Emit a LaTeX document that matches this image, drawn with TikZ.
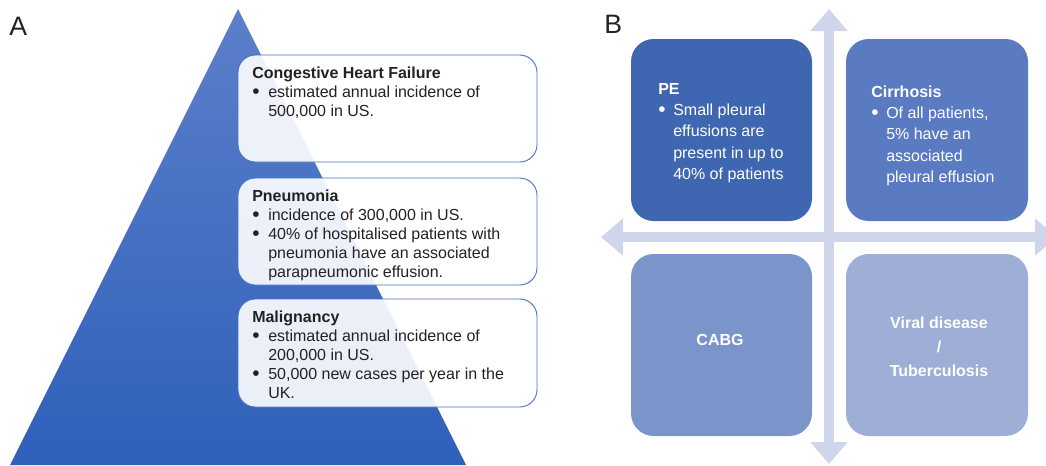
\documentclass[tikz,border=0pt]{standalone}
\usepackage{fontspec}
\setmainfont{Liberation Sans}
\usepackage{xcolor}
\usetikzlibrary{arrows.meta}
\definecolor{tup}{RGB}{92, 127, 202}
\definecolor{tdn}{RGB}{47, 96, 186}
\definecolor{brd}{RGB}{72, 114, 196}
\definecolor{txt}{RGB}{34, 34, 34}
\definecolor{arw}{RGB}{207, 213, 234}
\definecolor{qa}{RGB}{63, 102, 176}
\definecolor{qb}{RGB}{90, 123, 194}
\definecolor{qc}{RGB}{123, 149, 203}
\definecolor{qd}{RGB}{159, 174, 215}
\newcommand{\bul}{\makebox[12pt][l]{\raisebox{-0.07em}{\scalebox{1.3}{\textbullet}}}}
\newcommand{\wbul}{\makebox[11.25pt][l]{\raisebox{-0.07em}{\scalebox{1.3}{\textbullet}}}}

\begin{document}
\begin{tikzpicture}[x=0.75pt, y=-0.75pt,
    card/.style={draw=brd, fill=white, fill opacity=0.9, rounded corners=13pt, line width=0.7pt},
    quad/.style={rounded corners=17pt},
    axis/.style={arw, line width=7.5pt, {Triangle[width=27pt, length=16.5pt]}-{Triangle[width=27pt, length=16.5pt]}},
    info/.style={anchor=base west, inner sep=0pt, text=txt, font=\fontsize{12}{14.25}\selectfont},
    winfo/.style={anchor=base west, inner sep=0pt, text=white, font=\fontsize{12}{16}\selectfont},
    wtitle/.style={inner sep=0pt, text=white, align=center, font=\bfseries\fontsize{12}{18}\selectfont},
    panel/.style={anchor=base west, inner sep=0pt, text=txt, font=\fontsize{20}{24}\selectfont}]
      \useasboundingbox (0,0) rectangle (1046,465);
      \clip (0,0) rectangle (1046,465);
      % panel A
      \node[panel] (lbla) at (9,35) {A};
      \shade[top color=tup, bottom color=tdn] (238,9) -- (466,465) -- (10,465) -- cycle;
      \draw[card] (238,55) rectangle (537,162);
      \draw[card] (238,178) rectangle (537,285);
      \draw[card] (238,299) rectangle (537,407);
      \node[info] (chf) at (252,78) {\begin{tabular}[t]{@{}l@{}l@{}}
        \multicolumn{2}{@{}l@{}}{\textbf{Congestive Heart Failure}}\\
        \bul & estimated annual incidence of\\
        & 500,000 in US.
      \end{tabular}};
      \node[info] (pneu) at (252,201) {\begin{tabular}[t]{@{}l@{}l@{}}
        \multicolumn{2}{@{}l@{}}{\textbf{Pneumonia}}\\
        \bul & incidence of 300,000 in US.\\
        \bul & 40\% of hospitalised patients with\\
        & pneumonia have an associated\\
        & parapneumonic effusion.
      \end{tabular}};
      \node[info] (malig) at (252,322) {\begin{tabular}[t]{@{}l@{}l@{}}
        \multicolumn{2}{@{}l@{}}{\textbf{Malignancy}}\\
        \bul & estimated annual incidence of\\
        & 200,000 in US.\\
        \bul & 50,000 new cases per year in the\\
        & UK.
      \end{tabular}};
      % panel B
      \node[panel] (lblb) at (604,33) {B};
      \coordinate (vt) at (829,9);
      \coordinate (vb) at (829,464);
      \coordinate (hl) at (601,237);
      \coordinate (hr) at (1057,237);
      \draw[axis] (hl) -- (hr);
      \draw[axis] (vt) -- (vb);
      \fill[qa, quad] (631,39) rectangle (812,221);
      \fill[qb, quad] (846,39) rectangle (1028,221);
      \fill[qc, quad] (631,254) rectangle (812,436);
      \fill[qd, quad] (846,254) rectangle (1028,436);
      \node[winfo] (pe) at (658,94) {\begin{tabular}[t]{@{}l@{}l@{}}
        \multicolumn{2}{@{}l@{}}{\textbf{PE}}\\
        \wbul & Small pleural\\
        & effusions are\\
        & present in up to\\
        & 40\% of patients
      \end{tabular}};
      \node[winfo] (cirr) at (871,97) {\begin{tabular}[t]{@{}l@{}l@{}}
        \multicolumn{2}{@{}l@{}}{\textbf{Cirrhosis}}\\
        \wbul & Of all patients,\\
        & 5\% have an\\
        & associated\\
        & pleural effusion
      \end{tabular}};
      \node[wtitle] (cabg) at (720,340) {CABG};
      \node[wtitle] (vir) at (939,347) {Viral disease\\/\\Tuberculosis};
    \end{tikzpicture}
\end{document}
